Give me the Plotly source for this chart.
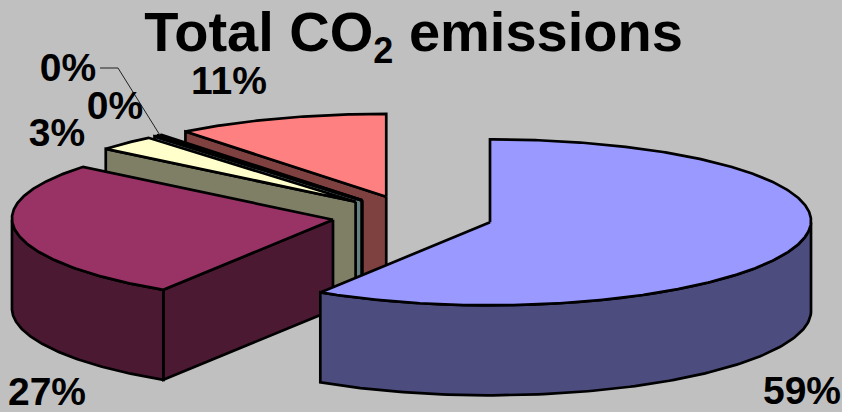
import numpy as np
import plotly.graph_objects as go

# Data
categories = ["A", "B", "C", "D", "E", "F"]
values = [59.0, 27.0, 3.0, 0.2, 0.2, 10.6]
top_colors = ["#9999FF", "#993366", "#FFFFCC", "#CCFFFF", "#660066", "#FF8080"]
side_colors = ["#4C4C7F", "#4C1933", "#7F7F66", "#667F7F", "#330033", "#7F4040"]
draw_order = [5, 4, 3, 2, 1, 0]

# Pie projection
CX, CY = 412.6, 216.5
RX, RY = 321.0, 83.0
DEPTH = 90.0
EXPLODE = 80.6
SKEW = 0.016
BG = "#C0C0C0"
LW = 2.7

# Label positions per category (pixel-scale axes)
label_xy = {"A": (802, 394.5), "B": (47, 395.5), "C": (57, 136),
            "D": (115, 109), "E": (68, 71), "F": (229, 84)}


def proj(theta_deg, r=1.0, centre=(CX, CY)):
    t = np.radians(theta_deg)
    return (centre[0] + RX * r * np.sin(t) * (1 + SKEW * np.cos(t)),
            centre[1] - RY * r * np.cos(t))


fig = go.Figure()


def poly(xs, ys, fill):
    fig.add_trace(go.Scatter(
        x=list(xs) + [xs[0]], y=list(ys) + [ys[0]], mode="lines", fill="toself",
        fillcolor=fill, line=dict(color="black", width=LW, shape="linear"),
        hoverinfo="skip", showlegend=False))


starts = np.concatenate([[0], np.cumsum(values)[:-1]]) * 3.6
ends = np.cumsum(values) * 3.6

for i in draw_order:
    a, b = starts[i], ends[i]
    mid = np.radians((a + b) / 2)
    c = (CX + EXPLODE * np.sin(mid), CY - EXPLODE * RY / RX * np.cos(mid))
    # radial walls that face the viewer
    for ang, visible in ((a, np.sin(np.radians(a)) < -1e-6),
                         (b, np.sin(np.radians(b)) > 1e-6)):
        if visible:
            ex, ey = proj(ang, centre=c)
            poly([c[0], ex, ex, c[0]], [c[1], ey, ey + DEPTH, c[1] + DEPTH], side_colors[i])
    # outer rim in the front half
    lo, hi = max(a, 90), min(b, 270)
    if hi > lo:
        th = np.linspace(lo, hi, 120)
        rx, ry = proj(th, centre=c)
        poly(np.r_[rx, rx[::-1]], np.r_[ry, ry[::-1] + DEPTH], side_colors[i])
    # top face
    th = np.linspace(a, b, max(int(b - a) * 2, 4))
    tx, ty = proj(th, centre=c)
    poly(np.r_[c[0], tx], np.r_[c[1], ty], top_colors[i])

# Leader line for the small slice
e_idx = categories.index("E")
mid_e = np.radians((starts[e_idx] + ends[e_idx]) / 2)
ce = (CX + EXPLODE * np.sin(mid_e), CY - EXPLODE * RY / RX * np.cos(mid_e))
ax_, ay_ = proj(np.degrees(mid_e), centre=ce)
lx, ly = label_xy["E"]
fig.add_trace(go.Scatter(x=[lx + 32, lx + 50, ax_], y=[ly - 3, ly - 3, ay_], mode="lines",
                         line=dict(color="#202020", width=1), hoverinfo="skip", showlegend=False))

# Data labels
fig.add_trace(go.Scatter(
    x=[label_xy[c_][0] for c_ in categories],
    y=[label_xy[c_][1] for c_ in categories],
    text=[f"{round(v)}%" for v in values],
    mode="text", textposition="middle center",
    textfont=dict(family="Liberation Sans", size=39, color="black", weight="bold"),
    cliponaxis=False, hoverinfo="skip", showlegend=False))

fig.update_layout(
    width=842, height=412,
    margin=dict(l=0, r=0, t=0, b=0),
    paper_bgcolor=BG, plot_bgcolor=BG,
    showlegend=False,
    title=dict(text="<b>Total CO<sub><span style='font-size:36px'>2</span></sub> emissions</b>",
               font=dict(family="Liberation Sans", size=56, color="black"),
               x=413.5 / 842, xanchor="center", y=1 - 31.5 / 412, yanchor="middle"),
    xaxis=dict(range=[0, 842], visible=False, fixedrange=True),
    yaxis=dict(range=[412, 0], visible=False, fixedrange=True),
)
fig.write_html("out.html", config={"displayModeBar": False},
               post_script="document.body.style.margin='0';document.documentElement.style.overflow='hidden';")
